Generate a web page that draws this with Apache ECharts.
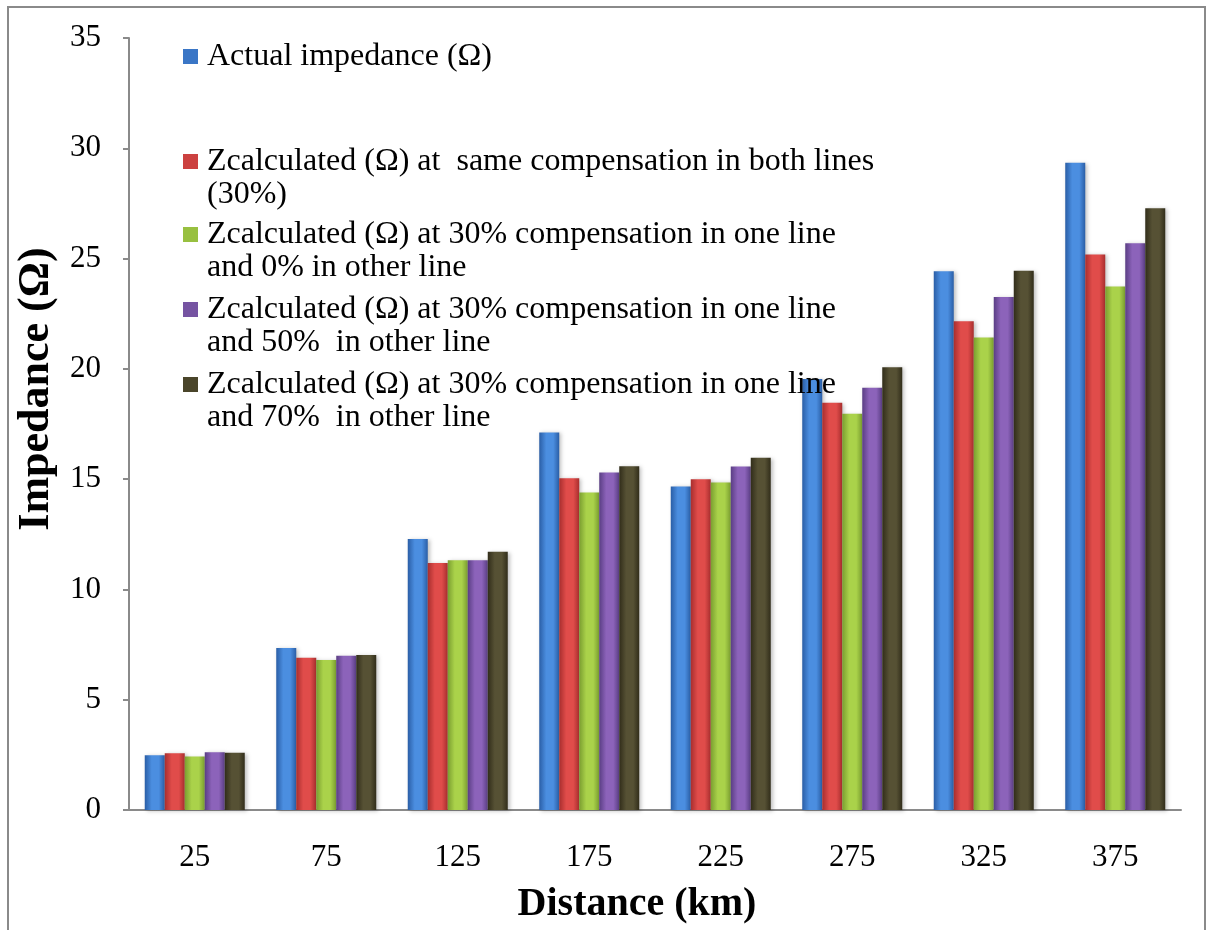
<!DOCTYPE html>
<html>
<head>
<meta charset="utf-8">
<script src="https://cdn.jsdelivr.net/npm/echarts@6/dist/echarts.min.js"></script>
<style>
html,body{margin:0;padding:0;background:#fff;}
#c{width:1207px;height:930px;}
</style>
</head>
<body>
<div id="c"></div>
<script>
const categories = ['25', '75', '125', '175', '225', '275', '325', '375'];
const actualImpedance = [2.48, 7.35, 12.29, 17.12, 14.67, 19.54, 24.42, 29.34];
const zSame30 = [2.57, 6.90, 11.20, 15.04, 15.00, 18.46, 22.16, 25.19];
const z30and0 = [2.42, 6.80, 11.32, 14.39, 14.85, 17.96, 21.42, 23.73];
const z30and50 = [2.62, 6.99, 11.32, 15.30, 15.57, 19.14, 23.26, 25.69];
const z30and70 = [2.59, 7.03, 11.71, 15.58, 15.97, 20.07, 24.45, 27.28];
const yTicks = [0, 5, 10, 15, 20, 25, 30, 35];

const seriesNames = [
  'Actual impedance (Ω)',
  'Zcalculated (Ω) at  same compensation in both lines (30%)',
  'Zcalculated (Ω) at 30% compensation in one line and 0% in other line',
  'Zcalculated (Ω) at 30% compensation in one line and 50%  in other line',
  'Zcalculated (Ω) at 30% compensation in one line and 70%  in other line'
];
const legendLines = [
  ['Actual impedance (Ω)'],
  ['Zcalculated (Ω) at  same compensation in both lines', '(30%)'],
  ['Zcalculated (Ω) at 30% compensation in one line', 'and 0% in other line'],
  ['Zcalculated (Ω) at 30% compensation in one line', 'and 50%  in other line'],
  ['Zcalculated (Ω) at 30% compensation in one line', 'and 70%  in other line']
];
const seriesData = [actualImpedance, zSame30, z30and0, z30and50, z30and70];
const palette = [
  { edge: '#2a5ea6', mid: '#4b8ee0', icon: '#3a76c6' },
  { edge: '#a82e2e', mid: '#e04c4a', icon: '#cc4140' },
  { edge: '#7a9e30', mid: '#aad24a', icon: '#98c040' },
  { edge: '#5a3e84', mid: '#8c63ba', icon: '#7654a2' },
  { edge: '#312d1a', mid: '#565134', icon: '#4a452a' }
];
const legendTops = [40, 112, 185, 260, 335];

const FONT = '"Liberation Serif", "Times New Roman", serif';

function grad(p) {
  return new echarts.graphic.LinearGradient(0, 0, 1, 0, [
    { offset: 0, color: p.edge },
    { offset: 0.35, color: p.mid },
    { offset: 0.7, color: p.mid },
    { offset: 1, color: p.edge }
  ]);
}

const chart = echarts.init(document.getElementById('c'), null, { renderer: 'canvas' });

const legends = seriesNames.map((name, i) => ({
  data: [{ name: name, itemStyle: { color: palette[i].icon } }],
  left: 183,
  top: legendTops[i],
  padding: 0,
  icon: 'rect',
  itemWidth: 15,
  itemHeight: 15,
  selectedMode: false,
  formatter: () => (legendLines[i].length > 1 ? '\n' : '') + legendLines[i].join('\n'),
  textStyle: {
    fontFamily: FONT,
    fontSize: 32,
    color: '#000',
    lineHeight: 33,
    padding: [0, 0, 0, 4]
  }
}));

const option = {
  backgroundColor: '#fff',
  animation: false,
  graphic: [{
    type: 'rect',
    shape: { x: 8, y: 7, width: 1197, height: 1000 },
    style: { fill: 'none', stroke: '#8a8a8a', lineWidth: 2 },
    silent: true
  }],
  legend: legends,
  grid: { left: 129, right: 26, top: 38, bottom: 119, containLabel: false },
  xAxis: {
    type: 'category',
    data: categories,
    axisLine: { lineStyle: { color: '#8a8a8a', width: 2 } },
    axisTick: { show: false },
    axisLabel: { fontFamily: FONT, fontSize: 31, color: '#000', margin: 32 },
    name: 'Distance (km)',
    nameLocation: 'middle',
    nameGap: 75,
    nameTextStyle: { fontFamily: FONT, fontSize: 40, fontWeight: 'bold', color: '#000', padding: [0, 36, 0, 0] }
  },
  yAxis: {
    type: 'value',
    min: yTicks[0],
    max: yTicks[yTicks.length - 1],
    interval: 5,
    splitLine: { show: false },
    axisLine: { show: true, lineStyle: { color: '#8a8a8a', width: 2 } },
    axisTick: { show: true, length: 6, lineStyle: { color: '#8a8a8a', width: 2 } },
    axisLabel: { fontFamily: FONT, fontSize: 31, color: '#000', margin: 28 },
    name: 'Impedance (Ω)',
    nameLocation: 'middle',
    nameGap: 70,
    nameTextStyle: { fontFamily: FONT, fontSize: 44, fontWeight: 'bold', color: '#000', padding: [0, 0, 0, 70] }
  },
  series: seriesNames.map((name, i) => ({
    type: 'bar',
    name: name,
    data: seriesData[i],
    barWidth: 20,
    barGap: '0%',
    itemStyle: {
      color: grad(palette[i]),
      shadowColor: 'rgba(0,0,0,0.25)',
      shadowBlur: 4,
      shadowOffsetX: 2,
      shadowOffsetY: 1
    }
  }))
};
chart.setOption(option);
</script>
</body>
</html>
